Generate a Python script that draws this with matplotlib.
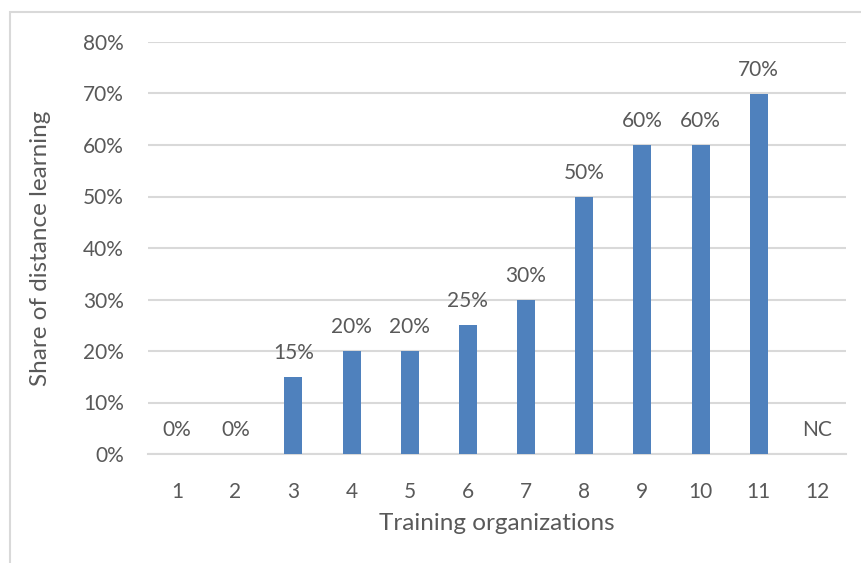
import numpy as np
import matplotlib.pyplot as plt
from matplotlib.patches import Rectangle

orgs = ['1', '2', '3', '4', '5', '6', '7', '8', '9', '10', '11', '12']
shares = [0, 0, 15, 20, 20, 25, 30, 50, 60, 60, 70, None]   # None = NC
bar_labels = ['0%', '0%', '15%', '20%', '20%', '25%', '30%', '50%', '60%', '60%', '70%', 'NC']

plt.rcParams['font.family'] = ['Lato', 'DejaVu Sans']
txt = '#595959'
grid = '#d9d9d9'

fig = plt.figure(figsize=(8.61, 5.63), dpi=100)
ax = fig.add_axes([148 / 861, 109 / 563, 698 / 861, 412 / 563])

x = np.arange(len(orgs))
vals = np.array([v if v is not None else 0 for v in shares], dtype=float) / 100
ax.bar(x, vals, width=0.31, color='#4f81bd', zorder=3)

for xi, v, lab in zip(x, vals, bar_labels):
    ax.annotate(lab, xy=(xi, v), xytext=(0, 10), textcoords='offset points',
                ha='center', va='bottom', fontsize=15, color=txt)

ax.set_xlim(-0.5, len(orgs) - 0.5)
ax.set_ylim(0, 0.8)
ax.set_yticks(np.arange(0, 0.81, 0.1))
ax.set_yticklabels(['{:.0f}%'.format(t * 100) for t in np.arange(0, 0.81, 0.1)])
ax.set_xticks(x)
ax.set_xticklabels(orgs)
ax.tick_params(axis='both', length=0, labelsize=15, colors=txt)
ax.tick_params(axis='y', pad=17.5)
ax.tick_params(axis='x', pad=20)
ax.grid(axis='y', color=grid, linewidth=1.5, zorder=0)
for s in ['left', 'right', 'top']:
    ax.spines[s].set_visible(False)
ax.spines['bottom'].set_color(grid)
ax.spines['bottom'].set_linewidth(1.5)

ax.set_xlabel('Training organizations', fontsize=17.5, color=txt, labelpad=8)
ax.set_ylabel('Share of distance learning', fontsize=17.5, color=txt, labelpad=23)

# chart frame (only top and left edges visible in the crop)
fig.patches.append(Rectangle((9.5 / 861, -0.1), 1.2, (563 - 12.5) / 563 + 0.1,
                             transform=fig.transFigure, fill=False,
                             edgecolor=grid, linewidth=1.5))

fig.savefig('out.png', dpi=100)
